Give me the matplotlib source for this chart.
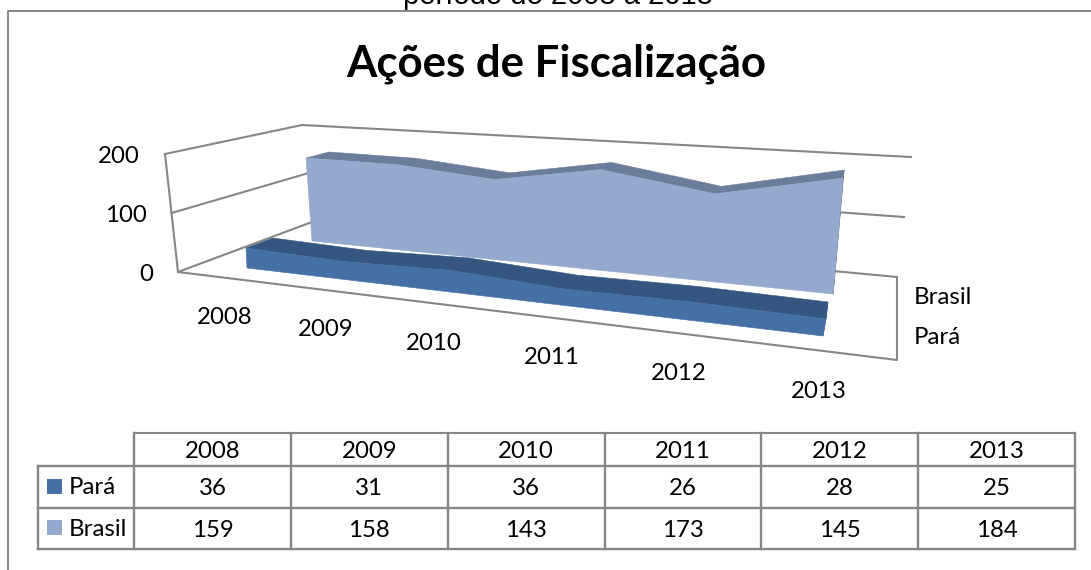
import numpy as np
import matplotlib
matplotlib.use("Agg")
import matplotlib.pyplot as plt
from matplotlib.patches import Polygon, Rectangle

# data
years = ["2008", "2009", "2010", "2011", "2012", "2013"]
para = [36, 31, 36, 26, 28, 25]
brasil = [159, 158, 143, 173, 145, 184]
axis_ticks = [0, 100, 200]
title = "Ações de Fiscalização"
clipped_text = "período de 2008 a 2013"

GRID = "#868686"
BODY = ["Lato", "DejaVu Sans"]
FS = 17.3


def perspective(i):
    # the categories get wider towards the right side of the 3d box
    t = np.asarray(i) / (len(years) - 1)
    return t / (t + (1 - t) * 1.23)


def lerp(a, b, u):
    return np.asarray(a, float) + (np.asarray(b, float) - np.asarray(a, float)) * u


def face(values, base_l, base_r, top_l, top_r, shift_l=(0, 0), shift_r=(0, 0)):
    # base_*: value 0 on the screen, top_*: value 200 on the screen
    v = np.asarray(values, float) / 200
    u = perspective(np.arange(len(values)))
    x = lerp(base_l[0] + shift_l[0], base_r[0] + shift_r[0], u)
    y = lerp(base_l[1] + shift_l[1], base_r[1] + shift_r[1], u)
    tx = lerp(top_l[0] + shift_l[0], top_r[0] + shift_r[0], u)
    ty = lerp(top_l[1] + shift_l[1], top_r[1] + shift_r[1], u)
    return x + (tx - x) * v, y + (ty - y) * v, x, y


def ribbon(ax, values, base_l, base_r, top_l, top_r, shift_l, shift_r, front, dark, z):
    fx, fy, bx, by = face(values, base_l, base_r, top_l, top_r)
    kx, ky, kbx, kby = face(values, base_l, base_r, top_l, top_r, shift_l, shift_r)
    # lid of the area
    lid = np.r_[np.c_[kx, ky], np.c_[fx, fy][::-1]]
    ax.add_patch(Polygon(lid, fc=dark, ec=dark, lw=0.4, zorder=z))
    # right end
    side = [(fx[-1], fy[-1]), (kx[-1], ky[-1]), (kbx[-1], kby[-1]), (bx[-1], by[-1])]
    ax.add_patch(Polygon(side, fc=dark, ec=dark, lw=0.4, zorder=z))
    # front of the area
    body = np.r_[np.c_[fx, fy], np.c_[bx, by][::-1]]
    ax.add_patch(Polygon(body, fc=front, ec=front, lw=0.4, zorder=z + 0.1))


fig = plt.figure(figsize=(10.91, 5.70), dpi=100)
ax = fig.add_axes([0, 0, 1, 1])
ax.set_xlim(0, 1091)
ax.set_ylim(570, 0)
ax.axis("off")

# text of the page behind the chart, cut by the chart frame
ax.text(557.5, 4, clipped_text, family="Liberation Sans", fontsize=21, ha="center",
        va="baseline", color="black", zorder=1)
ax.add_patch(Rectangle((8, 11), 1083, 559, fc="white", ec="none", zorder=2))
ax.plot([8, 8, 1091], [570, 11, 11], color=GRID, lw=1.4, zorder=3)

ax.text(556, 64, title, family=BODY, fontsize=31.5, fontweight="bold", ha="center",
        va="center", color="black", zorder=5)

# walls of the 3d box
front_l = [(178, 272), (165, 154)]
back_l = [(312, 222), (302, 125)]
back_r = [(897, 277), (911, 157)]
for tick in axis_ticks:
    k = tick / axis_ticks[-1]
    p0 = lerp(front_l[0], front_l[1], k)
    p1 = lerp(back_l[0], back_l[1], k)
    p2 = lerp(back_r[0], back_r[1], k)
    ax.plot([p0[0], p1[0], p2[0]], [p0[1], p1[1], p2[1]], color=GRID, lw=1.5, zorder=3)
    ax.text(p0[0] - 25, p0[1] + 2.5, str(tick), family=BODY, fontsize=FS, ha="right",
            va="center", zorder=5)
ax.plot([165, 178, 897, 897], [154, 272, 360, 277], color=GRID, lw=1.5, zorder=3)

# series
ribbon(ax, brasil, (312, 241), (833, 294), (304.5, 136.6), (844, 168),
       (23, -6), (1, -8), "#95A9CF", "#6C7D9B", 4)
ribbon(ax, para, (247, 268), (823, 336), (241.5, 157), (847, 200),
       (27, -10), (2, -17), "#4470A5", "#345680", 4.5)

# category labels under the floor
u = perspective(np.arange(len(years)))
label_x = lerp(225, 819, u)
label_y = lerp(317, 391, u)
for name, x, y in zip(years, label_x, label_y):
    ax.text(x, y, name, family=BODY, fontsize=FS, ha="center", va="center", zorder=5)

# legend
ax.text(914, 297, "Brasil", family=BODY, fontsize=FS, ha="left", va="center", zorder=5)
ax.text(914, 338, "Pará", family=BODY, fontsize=FS, ha="left", va="center", zorder=5)

# data table
col_x = np.linspace(134, 1075, len(years) + 1)
row_y = [433, 466, 508, 549]
ax.plot([134, 1075], [433, 433], color=GRID, lw=1.5, zorder=3)
for y in row_y[1:]:
    ax.plot([38, 1075], [y, y], color=GRID, lw=1.7, zorder=3)
for x in col_x:
    ax.plot([x, x], [433, 549], color=GRID, lw=1.7, zorder=3)
ax.plot([38, 38], [466, 549], color=GRID, lw=1.7, zorder=3)

for i, name in enumerate(years):
    cx = (col_x[i] + col_x[i + 1]) / 2
    ax.text(cx, 451, name, family=BODY, fontsize=FS, ha="center", va="center", zorder=5)
    ax.text(cx, 488.5, str(para[i]), family=BODY, fontsize=FS, ha="center", va="center", zorder=5)
    ax.text(cx, 530.5, str(brasil[i]), family=BODY, fontsize=FS, ha="center", va="center", zorder=5)

ax.add_patch(Rectangle((47, 479), 15, 15, fc="#4470A5", ec="none", zorder=5))
ax.add_patch(Rectangle((47, 520), 15, 15, fc="#95A9CF", ec="none", zorder=5))
ax.text(69, 488, "Pará", family=BODY, fontsize=FS, ha="left", va="center", zorder=5)
ax.text(69, 530, "Brasil", family=BODY, fontsize=FS, ha="left", va="center", zorder=5)

fig.savefig("out.png", dpi=100)
